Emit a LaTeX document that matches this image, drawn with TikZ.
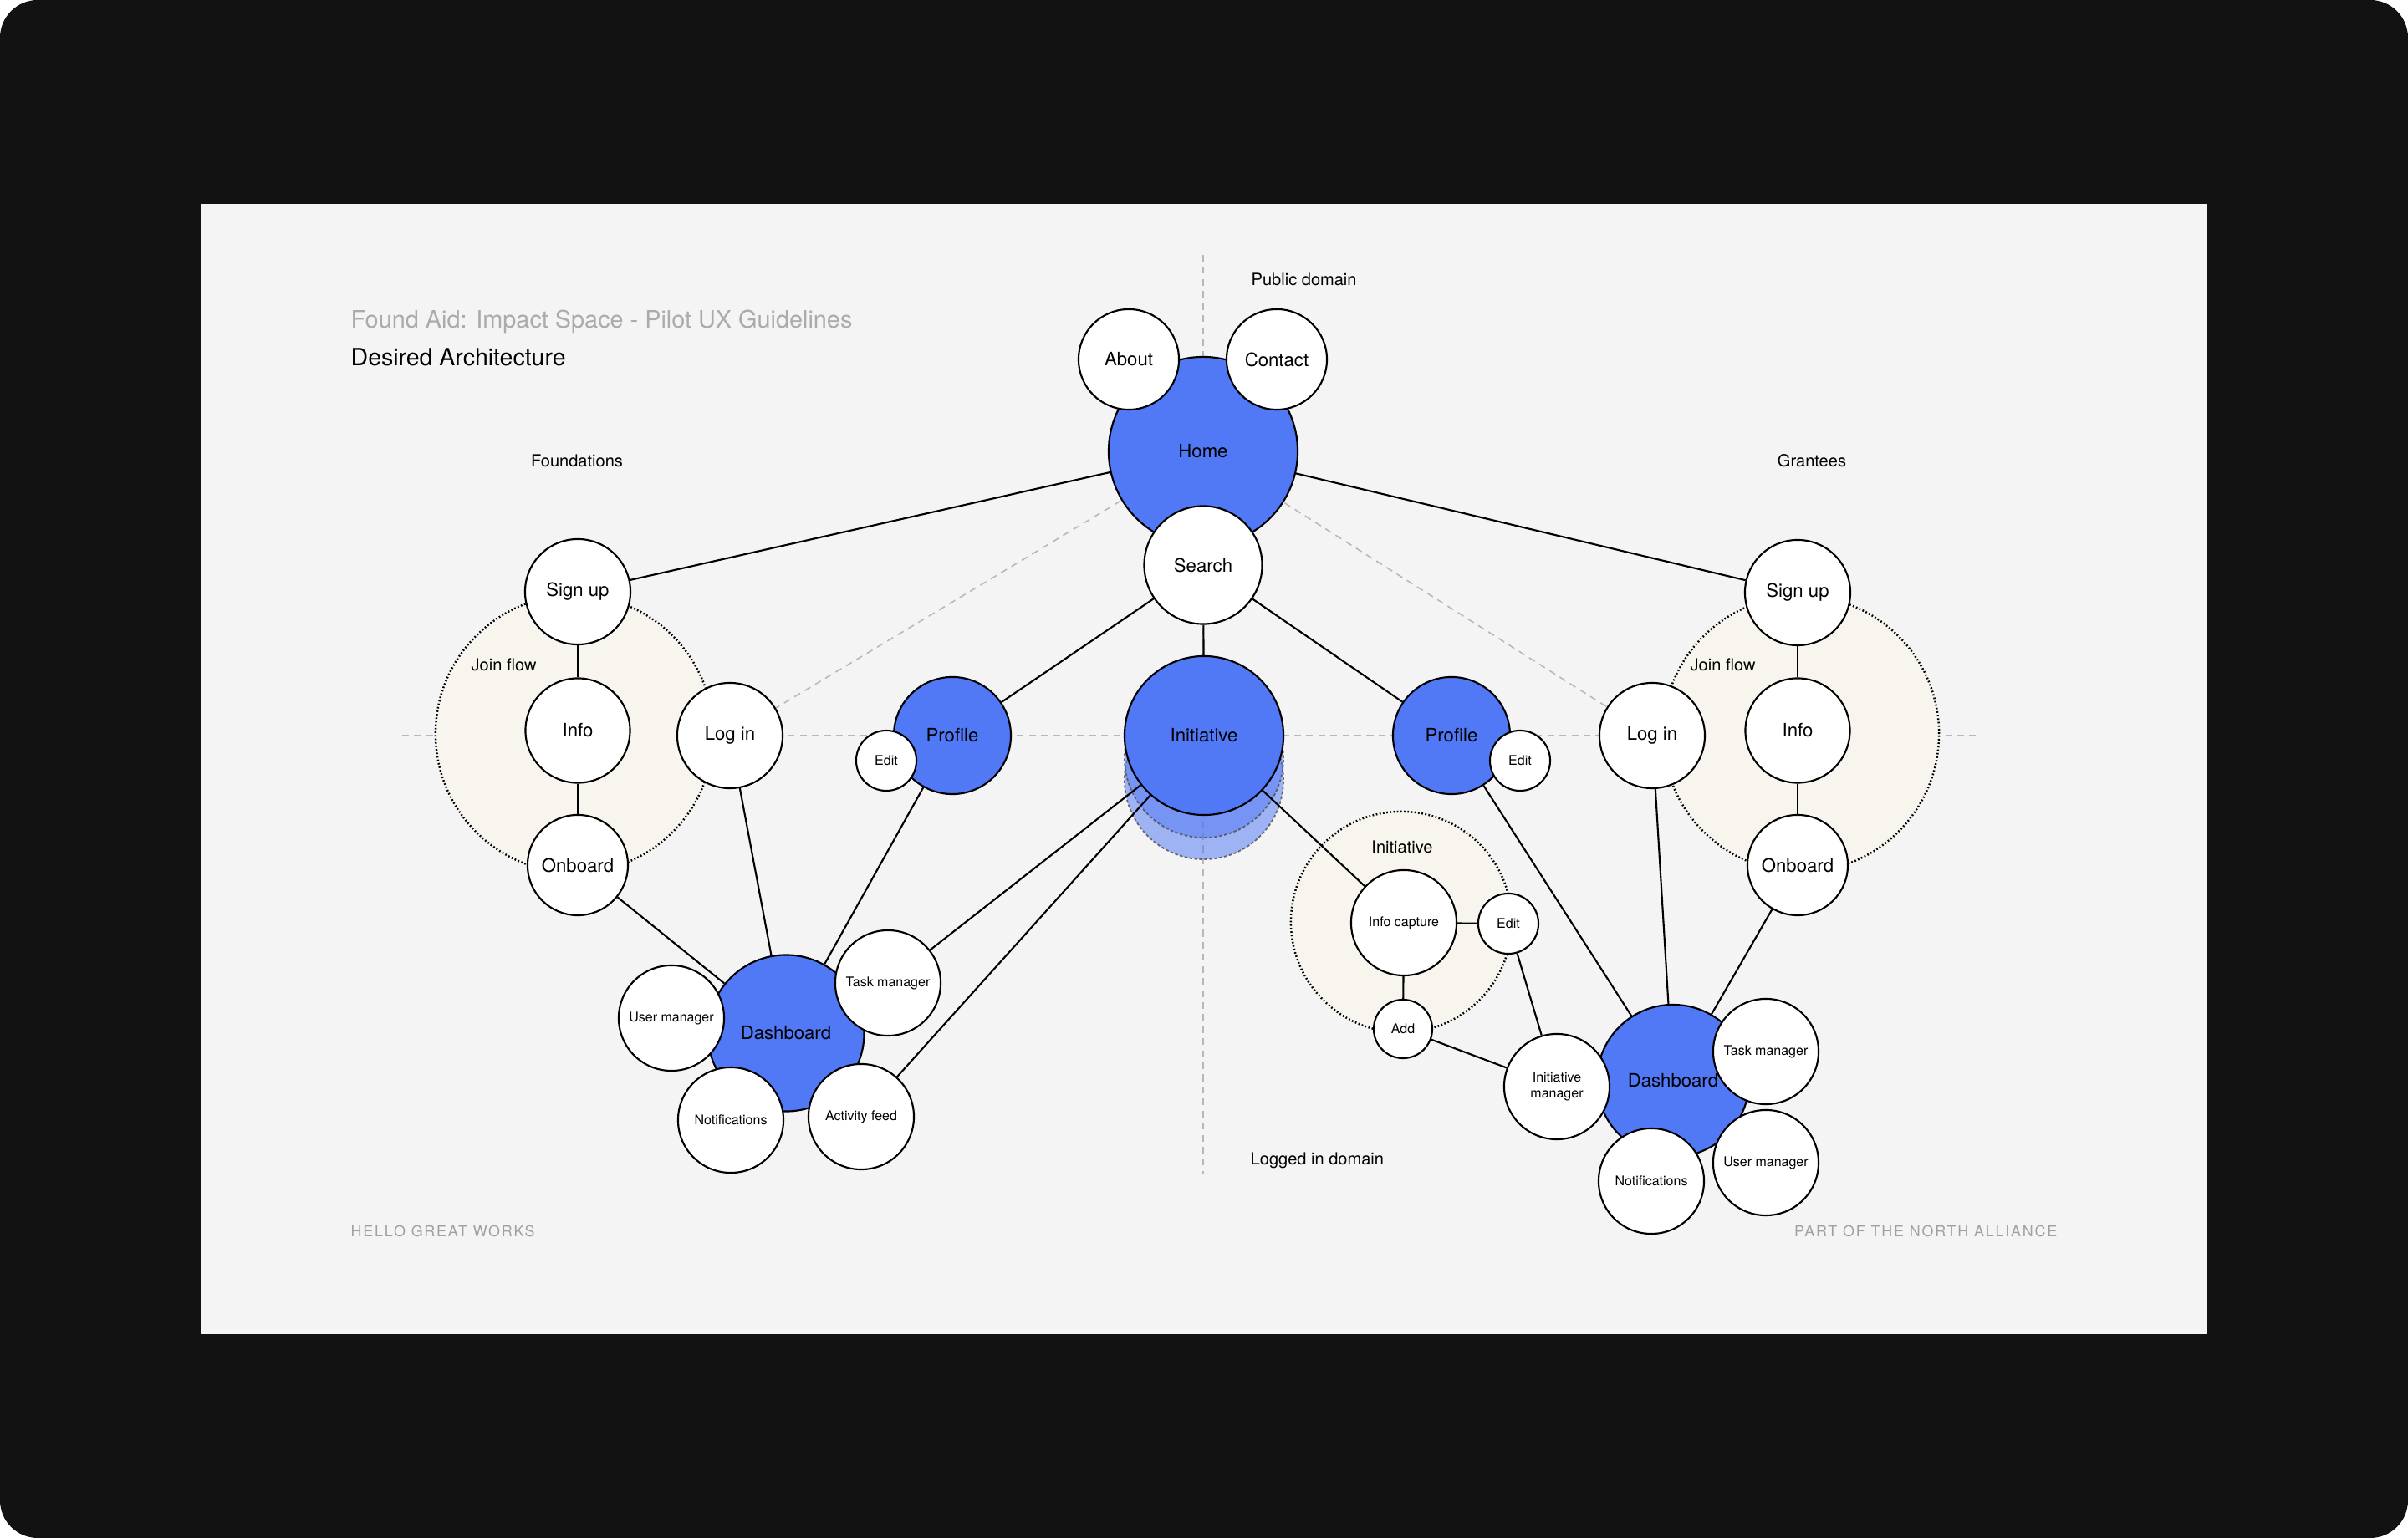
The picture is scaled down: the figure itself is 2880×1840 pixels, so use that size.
\documentclass[tikz,border=0pt]{standalone}
\usepackage{fontspec}
\setmainfont{TeX Gyre Heros}
\definecolor{frame}{HTML}{121212}
\definecolor{slide}{HTML}{F4F4F4}
\definecolor{ublue}{RGB}{81,120,245}
\definecolor{cream}{HTML}{F8F5EE}
\definecolor{guide}{HTML}{B8B8B8}
\definecolor{faint}{HTML}{ABABAB}
\definecolor{foot}{HTML}{A0A0A0}
\newcommand\fsz[1]{\fontsize{#1}{#1}\selectfont}
\pgfdeclarelayer{bg}
\pgfdeclarelayer{guides}
\pgfdeclarelayer{groups}
\pgfdeclarelayer{links}
\pgfsetlayers{bg,guides,groups,links,main}
\tikzset{
  base/.style={circle, draw=black, line width=0.6pt, inner sep=0pt, align=center, text=black},
  wnode/.style={base, fill=white},
  bnode/.style={base, fill=ublue},
  big/.style={font=\fsz{6.3}},
  small/.style={font=\fsz{4.55}},
  link/.style={line width=0.6pt, draw=black},
  guideline/.style={draw=guide, line width=0.45pt, dash pattern=on 2.3pt off 1.8pt},
  groupcirc/.style={circle, draw=black, fill=cream, line width=0.7pt, dash pattern=on 0.5pt off 0.7pt, inner sep=0pt},
  shadowcirc/.style={circle, fill=ublue, fill opacity=0.52, draw=black!70, draw opacity=0.8, line width=0.5pt, dash pattern=on 1pt off 0.7pt, inner sep=0pt, minimum size=1.9cm},
  lbl/.style={inner sep=0pt, text=black, font=\fsz{5.7}},
}
\begin{document}
\begin{tikzpicture}[x=0.01cm, y=-0.01cm]
\useasboundingbox (0,0) rectangle (2880,1840);
\begin{pgfonlayer}{bg}
  \fill[white] (0,0) rectangle (2880,1840);
  \fill[frame, rounded corners=0.45cm] (0,0) rectangle (2880,1840);
  \fill[slide] (240,244) rectangle (2640,1596);
\end{pgfonlayer}

% texts
\node[anchor=base west, inner sep=0pt, text=faint, font=\fsz{8.2}] (title) at (419,393) {Found Aid: Impact Space - Pilot UX Guidelines};
\node[anchor=base west, inner sep=0pt, text=black, font=\fsz{8.1}] (subtitle) at (419,438) {Desired Architecture};
\node[lbl, anchor=base west] (pubdom) at (1496,342) {Public domain};
\node[lbl] (found) at (690,551) {Foundations};
\node[lbl] (grant) at (2167,551) {Grantees};
\node[lbl, anchor=west] (logdom) at (1495,1388) {Logged in domain};
\node[inner sep=0pt, text=foot, font=\fsz{5.1}\addfontfeatures{LetterSpace=10}, anchor=west] (hello) at (419,1473) {HELLO GREAT WORKS};
\node[inner sep=0pt, text=foot, font=\fsz{5.1}\addfontfeatures{LetterSpace=10}, anchor=east] (north) at (2461,1473) {PART OF THE NORTH ALLIANCE};

% group circles
\begin{pgfonlayer}{groups}
  \node[groupcirc, minimum size=3.32cm] (joinL) at (687,878) {};
  \node[groupcirc, minimum size=3.3cm] (joinR) at (2154,878) {};
  \node[groupcirc, minimum size=2.64cm] (initgrp) at (1676,1103) {};
  \node[shadowcirc] (sh2) at (1440,933) {};
  \node[shadowcirc] (sh1) at (1440,907) {};
\end{pgfonlayer}
\node[lbl, anchor=west] (joinLt) at (563,795) {Join flow};
\node[lbl, anchor=west] (joinRt) at (2021,795) {Join flow};
\node[lbl] (initgrpt) at (1677,1013) {Initiative};

% main nodes
\node[bnode, big, minimum size=2.26cm] (home) at (1439,540) {Home};
\node[wnode, big, minimum size=1.2cm] (about) at (1350,430) {About};
\node[wnode, big, minimum size=1.2cm] (contact) at (1527,430) {Contact};
\node[wnode, big, minimum size=1.41cm] (search) at (1439,676) {Search};

\node[wnode, big, minimum size=1.26cm] (signupL) at (691,708) {Sign up};
\node[wnode, big, minimum size=1.25cm] (infoL) at (691,874) {Info};
\node[wnode, big, minimum size=1.2cm] (onboardL) at (691,1035) {Onboard};
\node[wnode, big, minimum size=1.26cm] (loginL) at (873,880) {Log in};
\node[bnode, big, minimum size=1.4cm] (profileL) at (1139,880) {Profile};
\node[wnode, small, minimum size=0.72cm] (editL) at (1060,910) {Edit};

\node[bnode, big, minimum size=1.9cm] (init) at (1440,880) {Initiative};

\node[bnode, big, minimum size=1.4cm] (profileR) at (1736,880) {Profile};
\node[wnode, small, minimum size=0.72cm] (editR) at (1818,910) {Edit};
\node[wnode, big, minimum size=1.26cm] (loginR) at (1976,880) {Log in};
\node[wnode, big, minimum size=1.26cm] (signupR) at (2150,709) {Sign up};
\node[wnode, big, minimum size=1.25cm] (infoR) at (2150,874) {Info};
\node[wnode, big, minimum size=1.2cm] (onboardR) at (2150,1035) {Onboard};

\node[bnode, big, minimum size=1.87cm] (dashL) at (940,1236) {Dashboard};
\node[wnode, small, minimum size=1.26cm] (usermgrL) at (803,1218) {User manager};
\node[wnode, small, minimum size=1.26cm] (taskmgrL) at (1062,1176) {Task manager};
\node[wnode, small, minimum size=1.26cm] (notifL) at (874,1340) {Notifications};
\node[wnode, small, minimum size=1.26cm] (actfeed) at (1030,1336) {Activity feed};

\node[wnode, small, minimum size=1.26cm] (infocap) at (1679,1104) {Info capture};
\node[wnode, small, minimum size=0.72cm] (editI) at (1804,1105) {Edit};
\node[wnode, small, minimum size=0.7cm] (add) at (1678,1231) {Add};
\node[bnode, big, minimum size=1.82cm] (dashR) at (2001,1293) {Dashboard};
\node[wnode, small, minimum size=1.26cm] (initmgr) at (1862,1300) {Initiative\\[1pt]manager};
\node[wnode, small, minimum size=1.26cm] (taskmgrR) at (2112,1258) {Task manager};
\node[wnode, small, minimum size=1.26cm] (usermgrR) at (2112,1391) {User manager};
\node[wnode, small, minimum size=1.26cm] (notifR) at (1975,1413) {Notifications};

% guides
\coordinate (vtop) at (1439,305);
\coordinate (vbot) at (1439,1405);
\coordinate (hl) at (481,880);
\coordinate (hr) at (2364,880);
\begin{pgfonlayer}{guides}
  \draw[guideline] (vtop) -- (vbot);
  \draw[guideline] (hl) -- (hr);
  \draw[guideline] (home.center) -- (loginL.center);
  \draw[guideline] (home.center) -- (loginR.center);
\end{pgfonlayer}

% connectors
\begin{pgfonlayer}{links}
  \draw[link] (home) -- (signupL);
  \draw[link] (home) -- (signupR);
  \draw[link] (search) -- (profileL);
  \draw[link] (search) -- (init);
  \draw[link] (search) -- (profileR);
  \draw[link] (signupL) -- (infoL);
  \draw[link] (infoL) -- (onboardL);
  \draw[link] (signupR) -- (infoR);
  \draw[link] (infoR) -- (onboardR);
  \draw[link] (onboardL) -- (dashL);
  \draw[link] (loginL) -- (dashL);
  \draw[link] (profileL) -- (dashL);
  \draw[link] (taskmgrL) -- (init);
  \draw[link] (actfeed) -- (init);
  \draw[link] (init) -- (infocap);
  \draw[link] (infocap) -- (editI);
  \draw[link] (infocap) -- (add);
  \draw[link] (editI) -- (initmgr);
  \draw[link] (add) -- (initmgr);
  \draw[link] (profileR) -- (dashR);
  \draw[link] (loginR) -- (dashR);
  \draw[link] (onboardR) -- (dashR);
\end{pgfonlayer}
\end{tikzpicture}
\end{document}
